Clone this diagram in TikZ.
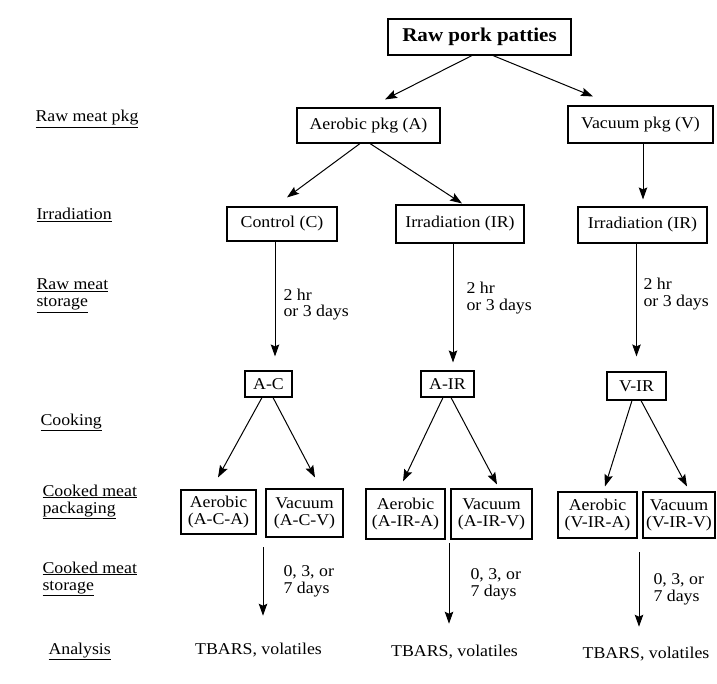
\documentclass[tikz,border=0pt]{standalone}
\usepackage{fontspec}
\setmainfont{Liberation Serif}[FakeStretch=1.08]
\usetikzlibrary{arrows.meta, positioning}

\begin{document}
\begin{tikzpicture}[x=1pt, y=-1pt, line width=1pt,
    font=\fontsize{16.5}{17}\selectfont,
    box/.style={draw, rectangle, line width=1.1pt, inner sep=1pt, align=center},
    stage/.style={anchor=base west, inner sep=0pt, align=left},
    note/.style={anchor=base west, inner sep=0pt, align=left},
    arr/.style={-{Stealth[length=12pt, width=8.5pt, inset=2pt]}}]
    \useasboundingbox (0,0) rectangle (717,684);
    % boxes
    \node[box, font=\fontsize{19.5}{20}\selectfont\bfseries, minimum width=183pt, minimum height=36pt] (patties) at (479.5,37) {Raw pork patties};
    \node[box, minimum width=143pt, minimum height=35pt] (aerP) at (368.5,125.5) {Aerobic pkg (A)};
    \node[box, minimum width=145pt, minimum height=37pt] (vacP) at (640.5,124.5) {Vacuum pkg (V)};
    \node[box, minimum width=110pt, minimum height=34pt] (ctrl) at (282,224) {Control (C)};
    \node[box, minimum width=128pt, minimum height=38pt] (irrA) at (460,224) {Irradiation (IR)};
    \node[box, minimum width=129pt, minimum height=36pt] (irrV) at (642.5,225) {Irradiation (IR)};
    \node[box, minimum width=47pt, minimum height=26pt] (ac) at (268.5,384) {A-C};
    \node[box, minimum width=53pt, minimum height=26pt] (air) at (447.5,384) {A-IR};
    \node[box, minimum width=59pt, minimum height=28pt] (vir) at (636.5,386) {V-IR};
    \node[box, minimum width=75pt, minimum height=44pt] (acA) at (218.5,512) {Aerobic\\(A-C-A)};
    \node[box, minimum width=77pt, minimum height=48pt] (acV) at (304.5,513) {Vacuum\\(A-C-V)};
    \node[box, minimum width=79pt, minimum height=50pt] (airA) at (405.5,514) {Aerobic\\(A-IR-A)};
    \node[box, minimum width=81pt, minimum height=50pt] (airV) at (491.5,514) {Vacuum\\(A-IR-V)};
    \node[box, minimum width=79pt, minimum height=46pt] (virA) at (597.5,515) {Aerobic\\(V-IR-A)};
    \node[box, minimum width=72pt, minimum height=46pt] (virV) at (679,515) {Vacuum\\(V-IR-V)};
    \node[anchor=base] (tb1) at (258.5,654) {TBARS, volatiles};
    \node[anchor=base] (tb2) at (454.5,656) {TBARS, volatiles};
    \node[anchor=base] (tb3) at (646,658) {TBARS, volatiles};
    % stages on the left (base = last line)
    \node[stage] (lPkg) at (35,122) {\underline{Raw meat pkg}};
    \node[stage] (lIrr) at (36,220) {\underline{Irradiation}};
    \node[stage] (lRaw) at (36,307) {\underline{Raw meat}\\\underline{storage}};
    \node[stage] (lCook) at (40,425) {\underline{Cooking}};
    \node[stage] (lCpkg) at (42,513) {\underline{Cooked meat}\\\underline{packaging}};
    \node[stage] (lCsto) at (42,590) {\underline{Cooked meat}\\\underline{storage}};
    \node[stage] (lAna) at (48,654) {\underline{Analysis}};
    % storage times
    \node[note] (t1) at (283,317) {2 hr\\or 3 days};
    \node[note] (t2) at (466,311) {2 hr\\or 3 days};
    \node[note] (t3) at (643,307) {2 hr\\or 3 days};
    \node[note] (d1) at (283,593) {0, 3, or\\7 days};
    \node[note] (d2) at (470,596) {0, 3, or\\7 days};
    \node[note] (d3) at (653,601) {0, 3, or\\7 days};
    % arrows
    \draw[arr] ([xshift=-7.5pt]patties.south) -- ([xshift=16.5pt, yshift=8pt]aerP.north);
    \draw[arr] ([xshift=13.5pt]patties.south) -- ([xshift=-47.5pt, yshift=9pt]vacP.north);
    \draw[arr] ([xshift=-8.5pt]aerP.south) -- ([xshift=5pt, yshift=9pt]ctrl.north);
    \draw[arr] ([xshift=1.5pt]aerP.south) -- ([xshift=2pt, yshift=1pt]irrA.north);
    \draw[arr] ([xshift=2.5pt]vacP.south) -- ([xshift=0.5pt, yshift=7pt]irrV.north);
    \draw[arr] ([xshift=-7pt]ctrl.south) -- ([xshift=6.5pt, yshift=14pt]ac.north);
    \draw[arr] ([xshift=-7pt]irrA.south) -- ([xshift=5.5pt, yshift=8pt]air.north);
    \draw[arr] ([xshift=-6pt]irrV.south) -- ([yshift=15pt]vir.north);
    \draw[arr] ([xshift=-6.5pt]ac.south) -- ([xshift=-0.5pt, yshift=12pt]acA.north);
    \draw[arr] ([xshift=4.5pt]ac.south) -- ([xshift=10.5pt, yshift=11pt]acV.north);
    \draw[arr] ([xshift=-4.5pt]air.south) -- ([xshift=-2.5pt, yshift=7pt]airA.north);
    \draw[arr] ([xshift=3.5pt]air.south) -- ([xshift=5.5pt, yshift=4pt]airV.north);
    \draw[arr] ([xshift=-4.5pt]vir.south) -- ([xshift=7.5pt, yshift=5pt]virA.north);
    \draw[arr] ([xshift=4.5pt]vir.south) -- ([xshift=8pt, yshift=5pt]virV.north);
    \coordinate (s1) at (263,547);
    \coordinate (s2) at (449,543);
    \coordinate (s3) at (639,552);
    \draw[arr, shorten >=23pt] (s1) -- (s1 |- tb1.north);
    \draw[arr, shorten >=17pt] (s2) -- (s2 |- tb2.north);
    \draw[arr, shorten >=16pt] (s3) -- (s3 |- tb3.north);
\end{tikzpicture}
\end{document}
